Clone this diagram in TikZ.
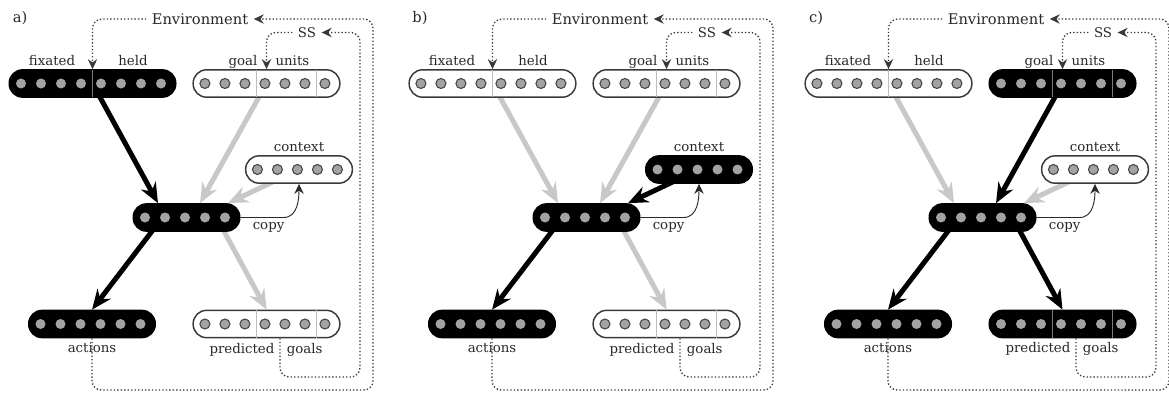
\documentclass[tikz,border=0pt]{standalone}
\usepackage{fontspec}
\setmainfont{DejaVu Serif}
\usetikzlibrary{arrows.meta,positioning,calc,backgrounds}
\definecolor{dotgray}{HTML}{A3A3A3}
\definecolor{dotedge}{HTML}{454545}
\definecolor{rimgray}{HTML}{3A3A3A}
\definecolor{divdark}{HTML}{7A7A7A}
\definecolor{divlight}{HTML}{BDBDBD}
\definecolor{armgray}{HTML}{C8C8C8}
\definecolor{loopgray}{HTML}{383838}
\definecolor{txtgray}{HTML}{282828}
\begin{document}
\begin{tikzpicture}[
	x=0.75pt, y=-0.75pt, % one unit is one pixel of the layout, y runs down
	> = {Stealth[length=7.5pt,width=7pt,inset=2.5pt]}, % small arrow head
	font=\fontsize{10}{12}\selectfont,
	rowon/.style={draw=black, fill=black, line width=1pt, rounded corners=10pt, minimum height=20.5pt, inner sep=0pt},
	rowoff/.style={draw=rimgray, fill=white, line width=1.1pt, rounded corners=10pt, minimum height=20.5pt, inner sep=0pt},
	doton/.style={fill=dotgray},
	dotoff/.style={fill=dotgray, draw=dotedge, line width=0.8pt},
	divon/.style={draw=divdark, line width=0.9pt, shorten <=0.5pt, shorten >=0.5pt},
	divoff/.style={draw=divlight, line width=0.9pt, shorten <=0.5pt, shorten >=0.5pt},
	armhot/.style={draw=black, line width=3.75pt, -{Stealth[length=15pt,width=12.5pt,inset=5pt]}},
	armcold/.style={draw=armgray, line width=3.75pt, -{Stealth[length=15pt,width=12.5pt,inset=5pt]}},
	loopline/.style={draw=loopgray, line width=1pt, dash pattern=on 1pt off 1.6pt, rounded corners=7pt, ->},
	copyline/.style={draw=txtgray, line width=0.7pt, ->},
	lbl/.style={text=txtgray, inner sep=1pt, text height=1.5ex, text depth=.3ex},
	title/.style={text=txtgray, inner sep=4pt, font=\fontsize{11}{13}\selectfont}
	]
	
	\useasboundingbox (0,0) rectangle (1169,396);
	
	\foreach \dx/\pn/\sfix/\sgoal/\sctx/\spred/\afix/\agoal/\actx/\apred in {
		0/a/on/off/off/off/hot/cold/cold/cold,
		400/b/off/off/on/off/cold/cold/hot/cold,
		796/c/off/on/off/on/cold/hot/cold/hot}
	{
	\begin{scope}[shift={(\dx,0)}]
		\node[title, inner sep=0pt] (tag\pn) at (20,18) {\pn)};
		\node[title] (env\pn) at (200,19) {Environment};
		\node[text=txtgray, inner sep=4pt] (ss\pn) at (307,32.5) {SS};
		
		% layers of units
		\node[row\sfix, minimum width=125pt] (fix\pn) at (92.5,83.5) {};
		\node[row\sgoal, minimum width=110pt] (goal\pn) at (266.5,83.5) {};
		\node[row\sctx, minimum width=80pt] (ctx\pn) at (299,169.5) {};
		\node[rowon, minimum width=80pt] (hid\pn) at (186.5,217.5) {};
		\node[rowon, minimum width=95pt] (act\pn) at (92,324) {};
		\node[row\spred, minimum width=110pt] (pred\pn) at (266.5,324) {};
		
		\draw[div\sfix] (fix\pn.north) -- (fix\pn.south);
		\foreach \sh in {-7.5pt,37.5pt} {
			\draw[div\sgoal] ([xshift=\sh]goal\pn.north) -- ([xshift=\sh]goal\pn.south);
			\draw[div\spred] ([xshift=\sh]pred\pn.north) -- ([xshift=\sh]pred\pn.south);
		}
		
		\foreach \i in {1,...,8} \path[dot\sfix] ($(fix\pn.west)+(20*\i-7.5,0)$) circle (3.75pt);
		\foreach \i in {1,...,7} \path[dot\sgoal] ($(goal\pn.west)+(20*\i-7.5,0)$) circle (3.75pt);
		\foreach \i in {1,...,5} \path[dot\sctx] ($(ctx\pn.west)+(20*\i-7.5,0)$) circle (3.75pt);
		\foreach \i in {1,...,5} \path[doton] ($(hid\pn.west)+(20*\i-7.5,0)$) circle (3.75pt);
		\foreach \i in {1,...,6} \path[doton] ($(act\pn.west)+(20*\i-7.5,0)$) circle (3.75pt);
		\foreach \i in {1,...,7} \path[dot\spred] ($(pred\pn.west)+(20*\i-7.5,0)$) circle (3.75pt);
		
		% labels
		\node[lbl, above=0pt of fix\pn.north, xshift=-30.4pt] (fixl\pn) {fixated};
		\node[lbl, above=0pt of fix\pn.north, xshift=30.4pt] (held\pn) {held};
		\node[lbl, above left=0pt and 5.6pt of goal\pn.north] (goall\pn) {goal};
		\node[lbl, above right=0pt and 5.6pt of goal\pn.north] (units\pn) {units};
		\node[lbl, above=0pt of ctx\pn] (ctxl\pn) {context};
		\node[lbl, below=2pt of act\pn] (actl\pn) {actions};
		\coordinate (pdiv\pn) at ($(pred\pn.south)+(13.5,0)$);
		\node[lbl, below left=2pt and 3pt of pdiv\pn] (predl\pn) {predicted};
		\node[lbl, below right=2pt and 4pt of pdiv\pn] (goals\pn) {goals};
		\node[lbl, below right=0pt and 8pt of hid\pn.east] (copyl\pn) {copy};
		
		% where the weights meet the hidden layer
		\coordinate (hinf\pn) at ($(hid\pn.north)+(-28.5,0)$);
		\coordinate (hing\pn) at ($(hid\pn.north)+(13.5,0)$);
		\coordinate (hinc\pn) at ($(hid\pn.north)+(41.5,0)$);
		\coordinate (houta\pn) at ($(hid\pn.center)+(-24,0)$);
		\coordinate (houtp\pn) at ($(hid\pn.center)+(30,0)$);
		
		\begin{pgfonlayer}{background}
			\draw[arm\afix] (fix\pn.center) -- (hinf\pn);
			\draw[arm\agoal] (goal\pn.center) -- (hing\pn);
			\draw[arm\actx] (ctx\pn.center) -- (hinc\pn);
			\draw[armhot] (houta\pn) -- (act\pn.north);
			\draw[arm\apred] (houtp\pn) -- (pred\pn.north);
		\end{pgfonlayer}
		
		\draw[copyline] (hid\pn.east) -- ++(43,0) to[out=0,in=-90] (ctx\pn.south);
		
		% loops through the world
		\coordinate (envc\pn) at (373,390);
		\coordinate (ssc\pn) at (360,377);
		\draw[loopline] (env\pn.west) -| (fix\pn.north);
		\draw[loopline] (act\pn.south) |- (envc\pn) |- (env\pn.east);
		\draw[loopline] (ss\pn.west) -| (goal\pn.north);
		\draw[loopline] (pdiv\pn) |- (ssc\pn) |- (ss\pn.east);
	\end{scope}
	}
	
\end{tikzpicture}
\end{document}
